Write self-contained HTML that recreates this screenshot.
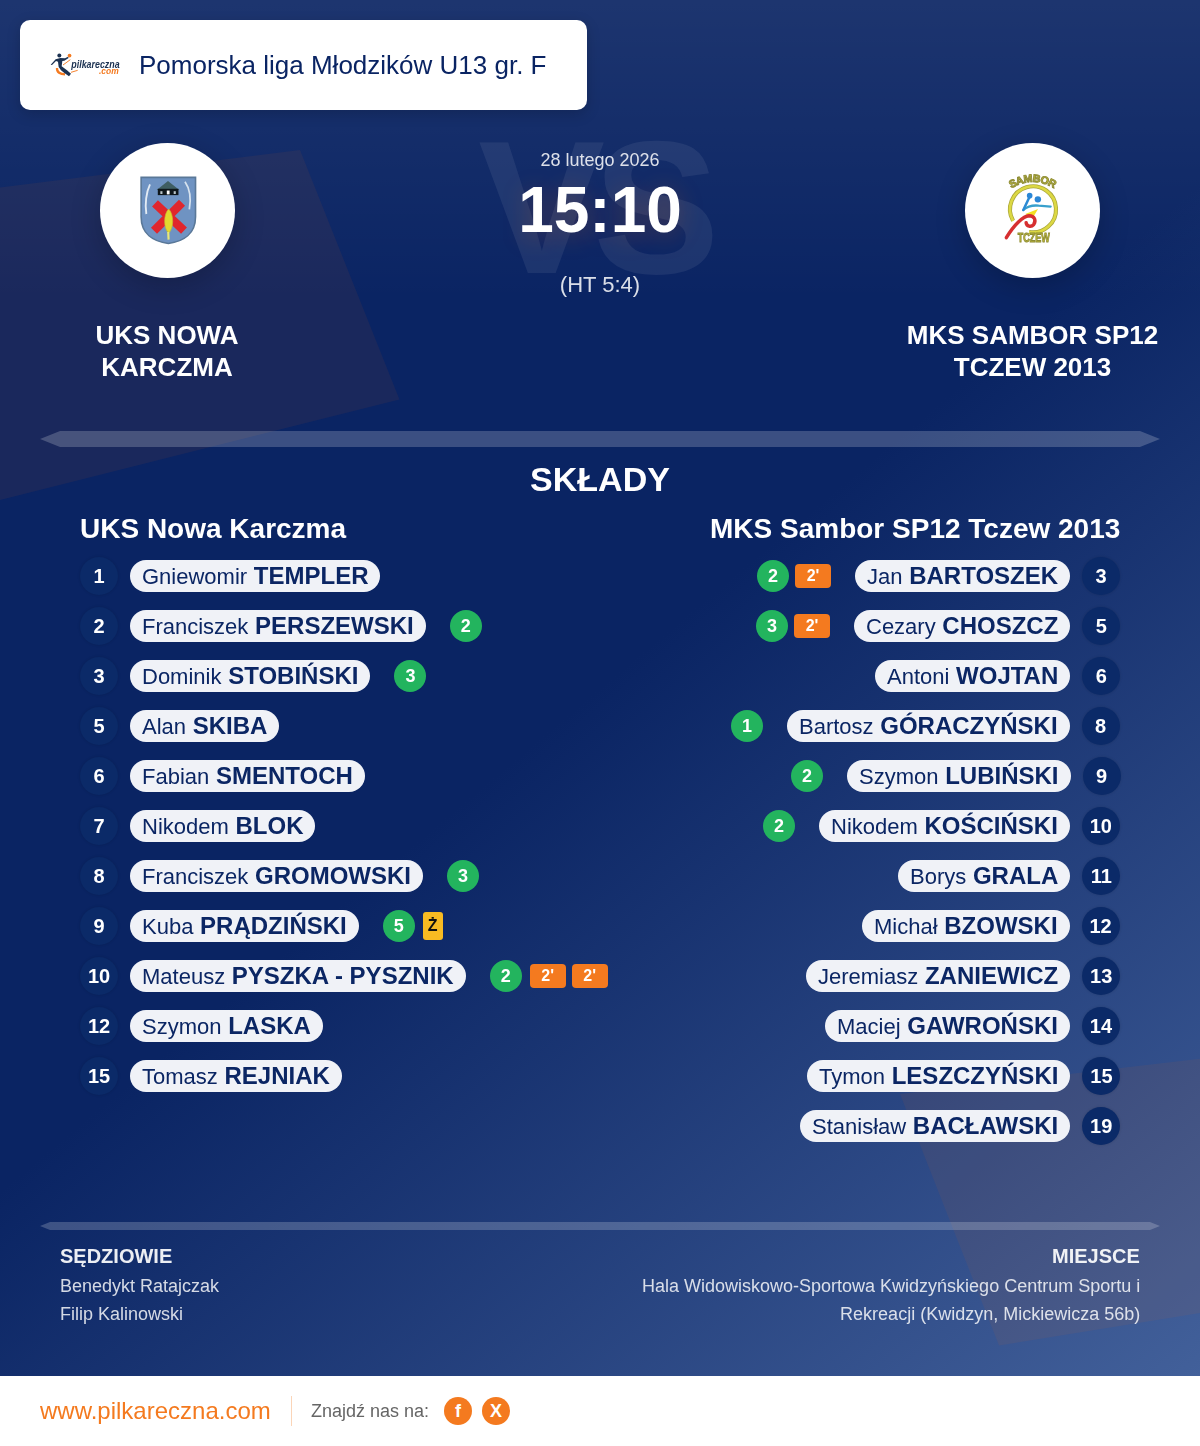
<!DOCTYPE html>
<html><head><meta charset="utf-8">
<style>
*{margin:0;padding:0;box-sizing:border-box}
html,body{width:1200px;height:1446px;overflow:hidden;background:#fff}
body{font-family:"Liberation Sans",sans-serif;position:relative}
.t,.row,#card{will-change:transform}
#main{position:absolute;left:0;top:0;width:1200px;height:1376px;overflow:hidden;
 background:linear-gradient(140deg,#0a2463 0%,#0a2463 50%,#42609a 100%)}
#topfade{position:absolute;left:0;top:0;width:1200px;height:300px;
 background:linear-gradient(180deg,rgba(255,255,255,0.08) 0%,rgba(255,255,255,0) 100%)}
.abs{position:absolute}
.t{position:absolute;white-space:nowrap}
#card{left:20px;top:20px;width:567px;height:90px;background:#fff;border-radius:10px;box-shadow:0 4px 14px rgba(0,0,0,0.18)}
#title{left:139px;top:52px;font-size:26px;line-height:26px;color:#0a2463}
.logo{position:absolute;width:135px;height:135px;border-radius:50%;background:#fff;top:142.5px;box-shadow:0 8px 30px rgba(0,0,0,0.22)}
.tname{position:absolute;width:300px;text-align:center;font-weight:bold;font-size:26px;line-height:32px;color:#fff;top:319px}
#vs{left:-7px;width:1200px;text-align:center;top:111.5px;font-size:190px;line-height:190px;font-weight:bold;color:rgba(255,255,255,0.07);letter-spacing:-12px}
#date{left:0;width:1200px;text-align:center;top:151px;font-size:18px;line-height:18px;color:rgba(255,255,255,0.85)}
#score{left:0;width:1200px;text-align:center;top:178px;font-size:64px;line-height:64px;font-weight:bold;color:#fff;text-shadow:0 4px 24px rgba(255,107,0,0.25)}
#ht{left:0;width:1200px;text-align:center;top:274px;font-size:22px;line-height:22px;color:rgba(255,255,255,0.85)}
.divider{position:absolute;left:40px;width:1120px;background:rgba(255,255,255,0.2)}
#d1{top:431px;height:16px;clip-path:polygon(20px 0,1100px 0,1120px 50%,1100px 100%,20px 100%,0 50%)}
#d2{top:1222px;height:8px;clip-path:polygon(10px 0,1110px 0,1120px 50%,1110px 100%,10px 100%,0 50%)}
#sklady{left:0;width:1200px;text-align:center;top:462px;font-size:34px;line-height:34px;font-weight:bold;color:#fff}
.th{font-size:28px;line-height:28px;font-weight:bold;color:#fff;top:515px}
.row{position:absolute;height:38px;display:flex;align-items:center}
.rowL{left:80px}
.rowR{right:80px;justify-content:flex-end}
.num{width:38px;height:38px;border-radius:50%;background:#0b2a68;box-shadow:0 0 3px rgba(0,0,0,0.15);color:#fff;font-weight:bold;font-size:20px;line-height:38px;text-align:center;flex:none}
.pill{height:32px;border-radius:16px;background:#f0f2f7;color:#0b2664;padding:0 12px;font-size:24px;line-height:31px;white-space:nowrap;flex:none}
.pill .fn{font-size:22px}
.pill .ln{font-weight:bold}
.rowL .pill{margin-left:12px}
.rowR .pill{margin-right:12px}
.ev{display:flex;align-items:center;flex:none}
.rowL .ev{margin-left:24px}
.rowR .ev{margin-right:24px}
.g{width:32px;height:32px;border-radius:50%;background:#23b45e;color:#fff;font-weight:bold;font-size:18px;line-height:32px;text-align:center}
.o{width:36px;height:24px;border-radius:4px;background:#f47a1f;color:#fff;font-weight:bold;font-size:16px;line-height:24px;text-align:center}
.y{width:20px;height:28px;border-radius:3px;background:#f8bb22;color:#111;font-weight:bold;font-size:16px;line-height:28px;text-align:center}
.rowL .g + .o,.rowL .g + .y{margin-left:8px}
.rowR .g + .o{margin-left:6px}
.o + .o{margin-left:6px}
.lbl{font-size:20px;line-height:20px;font-weight:bold;color:rgba(255,255,255,0.92);top:1246px}
.info{font-size:18px;line-height:28px;color:rgba(255,255,255,0.82)}
#footer{position:absolute;left:0;top:1376px;width:1200px;height:70px;background:#fff}
#www{left:40px;top:1399px;font-size:24px;line-height:24px;color:#f47a1f}
#sep{left:291px;top:1396px;width:1px;height:30px;background:#fbd5b8}
#find{left:311px;top:1402px;font-size:18px;line-height:18px;color:#666}
.soc{position:absolute;top:1397px;width:28px;height:28px;border-radius:50%;background:#f47a1f;color:#fff;font-weight:bold;font-size:18px;line-height:29px;text-align:center}
</style></head>
<body>
<div id="main">
 <div id="topfade"></div>
 <svg class="abs" style="left:0;top:0" width="1200" height="1376">
  <polygon points="0,187.5 300,150 399.5,399.5 0,500" fill="rgba(255,107,0,0.065)"/>
  <polygon points="900,1094 1200,1058.7 1200,1313 999,1345.6" fill="rgba(255,107,0,0.065)"/>
 </svg>
 <div class="t" id="vs">VS</div>

 <div class="abs" id="card"></div>
 <svg class="abs" style="left:45px;top:45px" width="80" height="40" viewBox="0 0 1200 600">
  <path d="M180,345 C175,410 230,440 300,440" stroke="#f47a20" stroke-width="34" fill="none"/>
  <path d="M270,300 L380,220 M390,410 L490,380" stroke="#f47a20" stroke-width="14" fill="none"/>
  <circle cx="215" cy="158" r="30" fill="#1b3151"/>
  <path d="M85,295 L160,215 L230,195 L300,200 L345,175 L355,195 L290,235 L260,240 L250,320 L330,380 L390,430 L360,470 L290,420 L240,380 L205,330 L195,250 L165,240 L105,300 Z" fill="#1b3151"/>
  <circle cx="368" cy="158" r="28" fill="#f47a20"/>
  <text x="395" y="348" font-family="Liberation Sans" font-weight="bold" font-style="italic" font-size="165" fill="#1b3151" textLength="725" lengthAdjust="spacingAndGlyphs">pilkareczna</text>
  <text x="810" y="432" font-family="Liberation Sans" font-style="italic" font-weight="bold" font-size="140" fill="#f47a20" textLength="295" lengthAdjust="spacingAndGlyphs">.com</text>
</svg>
 <div class="t" id="title">Pomorska liga Młodzików U13 gr. F</div>

 <div class="logo" style="left:99.5px"></div>
 <div class="logo" style="left:965px"></div>
 <svg class="abs" style="left:127px;top:170px" width="80" height="80" viewBox="0 0 1200 1200">
  <path d="M212,110 H1028 V700 C1028,955 850,1072 620,1102 C390,1072 212,955 212,700 Z" fill="#6f93c2" stroke="#5a7898" stroke-width="24"/>
  <path d="M345,215 C290,330 265,510 290,660" stroke="#e2ebf4" stroke-width="28" fill="none"/>
  <path d="M870,175 C950,290 960,450 935,590" stroke="#d6e2ee" stroke-width="26" fill="none"/>
  <polygon points="445,300 615,165 785,300" fill="#3f5e62"/>
  <rect x="462" y="282" width="310" height="95" fill="#0f171b"/>
  <rect x="500" y="318" width="32" height="42" fill="#b8c4c8"/>
  <rect x="597" y="308" width="42" height="58" fill="#fff"/>
  <rect x="700" y="318" width="32" height="42" fill="#b8c4c8"/>
  <path d="M420,500 L855,910 M825,490 L405,910" stroke="#e0262c" stroke-width="128"/>
  <path d="M625,585 C705,660 705,880 625,945 C545,880 545,660 625,585 Z" fill="#e2d92e" stroke="#c8b830" stroke-width="10"/>
  <path d="M618,930 L624,1045" stroke="#e8e878" stroke-width="32"/>
</svg>
 <svg class="abs" style="left:992px;top:170px" width="80" height="80" viewBox="0 0 1200 1200">
  
  <path d="M316,762 A345,345 0 1 1 555,930" stroke="#a9a53a" stroke-width="62" fill="none"/><path d="M316,762 A345,345 0 1 1 555,930" stroke="#dcd843" stroke-width="40" fill="none"/>
  <g font-family="Liberation Sans" font-weight="bold" font-size="160" fill="#c2bd3c" stroke="#8c8a34" stroke-width="14"><text x="0" y="0" transform="translate(334.6,250.2) rotate(-27.0)" text-anchor="middle">S</text><text x="0" y="0" transform="translate(431.4,209.5) rotate(-18.3)" text-anchor="middle">A</text><text x="0" y="0" transform="translate(546.6,183.7) rotate(-6.7)" text-anchor="middle">M</text><text x="0" y="0" transform="translate(664.7,182.8) rotate(5.8)" text-anchor="middle">B</text><text x="0" y="0" transform="translate(776.3,205.6) rotate(17.1)" text-anchor="middle">O</text><text x="0" y="0" transform="translate(881.8,248.4) rotate(26.7)" text-anchor="middle">R</text></g>
  <text x="625" y="1075" text-anchor="middle" font-family="Liberation Sans" font-weight="bold" font-size="200" fill="#c2bd3c" stroke="#8c8a34" stroke-width="14" textLength="480" lengthAdjust="spacingAndGlyphs">TCZEW</text>
  <path d="M470,600 Q560,520 700,535 L880,548" stroke="#38a0cc" stroke-width="34" fill="none" stroke-linecap="round"/>
  <path d="M470,600 L555,420" stroke="#2b8ad4" stroke-width="38" fill="none" stroke-linecap="round"/>
  <circle cx="565" cy="385" r="42" fill="#2a86d6"/>
  <circle cx="688" cy="440" r="48" fill="#2a86d6"/>
  <polygon points="500,660 690,585 610,720" fill="#f3df22"/>
  <path d="M215,1015 C330,820 470,690 555,685 C640,685 665,760 625,818 C585,865 520,845 512,790" stroke="#d62f30" stroke-width="52" fill="none" stroke-linecap="round"/>
</svg>

 <div class="tname" style="left:17px">UKS NOWA<br>KARCZMA</div>
 <div class="tname" style="left:882.5px">MKS SAMBOR SP12<br>TCZEW 2013</div>

 <div class="t" id="date">28 lutego 2026</div>
 <div class="t" id="score">15:10</div>
 <div class="t" id="ht">(HT 5:4)</div>

 <div class="divider" id="d1"></div>
 <div class="t" id="sklady">SKŁADY</div>
 <div class="t th" style="left:80px">UKS Nowa Karczma</div>
 <div class="t th" style="right:80px">MKS Sambor SP12 Tczew 2013</div>

 <!-- LEFT ROWS -->
 <div class="row rowL" style="top:557px"><div class="num">1</div><div class="pill"><span class="fn">Gniewomir</span> <span class="ln">TEMPLER</span></div></div>
 <div class="row rowL" style="top:607px"><div class="num">2</div><div class="pill"><span class="fn">Franciszek</span> <span class="ln">PERSZEWSKI</span></div><div class="ev"><div class="g">2</div></div></div>
 <div class="row rowL" style="top:657px"><div class="num">3</div><div class="pill"><span class="fn">Dominik</span> <span class="ln">STOBIŃSKI</span></div><div class="ev"><div class="g">3</div></div></div>
 <div class="row rowL" style="top:707px"><div class="num">5</div><div class="pill"><span class="fn">Alan</span> <span class="ln">SKIBA</span></div></div>
 <div class="row rowL" style="top:757px"><div class="num">6</div><div class="pill"><span class="fn">Fabian</span> <span class="ln">SMENTOCH</span></div></div>
 <div class="row rowL" style="top:807px"><div class="num">7</div><div class="pill"><span class="fn">Nikodem</span> <span class="ln">BLOK</span></div></div>
 <div class="row rowL" style="top:857px"><div class="num">8</div><div class="pill"><span class="fn">Franciszek</span> <span class="ln">GROMOWSKI</span></div><div class="ev"><div class="g">3</div></div></div>
 <div class="row rowL" style="top:907px"><div class="num">9</div><div class="pill"><span class="fn">Kuba</span> <span class="ln">PRĄDZIŃSKI</span></div><div class="ev"><div class="g">5</div><div class="y">Ż</div></div></div>
 <div class="row rowL" style="top:957px"><div class="num">10</div><div class="pill"><span class="fn">Mateusz</span> <span class="ln">PYSZKA - PYSZNIK</span></div><div class="ev"><div class="g">2</div><div class="o">2'</div><div class="o">2'</div></div></div>
 <div class="row rowL" style="top:1007px"><div class="num">12</div><div class="pill"><span class="fn">Szymon</span> <span class="ln">LASKA</span></div></div>
 <div class="row rowL" style="top:1057px"><div class="num">15</div><div class="pill"><span class="fn">Tomasz</span> <span class="ln">REJNIAK</span></div></div>

 <!-- RIGHT ROWS -->
 <div class="row rowR" style="top:557px"><div class="ev"><div class="g">2</div><div class="o">2'</div></div><div class="pill"><span class="fn">Jan</span> <span class="ln">BARTOSZEK</span></div><div class="num">3</div></div>
 <div class="row rowR" style="top:607px"><div class="ev"><div class="g">3</div><div class="o">2'</div></div><div class="pill"><span class="fn">Cezary</span> <span class="ln">CHOSZCZ</span></div><div class="num">5</div></div>
 <div class="row rowR" style="top:657px"><div class="pill"><span class="fn">Antoni</span> <span class="ln">WOJTAN</span></div><div class="num">6</div></div>
 <div class="row rowR" style="top:707px"><div class="ev"><div class="g">1</div></div><div class="pill"><span class="fn">Bartosz</span> <span class="ln">GÓRACZYŃSKI</span></div><div class="num">8</div></div>
 <div class="row rowR" style="top:757px"><div class="ev"><div class="g">2</div></div><div class="pill"><span class="fn">Szymon</span> <span class="ln">LUBIŃSKI</span></div><div class="num">9</div></div>
 <div class="row rowR" style="top:807px"><div class="ev"><div class="g">2</div></div><div class="pill"><span class="fn">Nikodem</span> <span class="ln">KOŚCIŃSKI</span></div><div class="num">10</div></div>
 <div class="row rowR" style="top:857px"><div class="pill"><span class="fn">Borys</span> <span class="ln">GRALA</span></div><div class="num">11</div></div>
 <div class="row rowR" style="top:907px"><div class="pill"><span class="fn">Michał</span> <span class="ln">BZOWSKI</span></div><div class="num">12</div></div>
 <div class="row rowR" style="top:957px"><div class="pill"><span class="fn">Jeremiasz</span> <span class="ln">ZANIEWICZ</span></div><div class="num">13</div></div>
 <div class="row rowR" style="top:1007px"><div class="pill"><span class="fn">Maciej</span> <span class="ln">GAWROŃSKI</span></div><div class="num">14</div></div>
 <div class="row rowR" style="top:1057px"><div class="pill"><span class="fn">Tymon</span> <span class="ln">LESZCZYŃSKI</span></div><div class="num">15</div></div>
 <div class="row rowR" style="top:1107px"><div class="pill"><span class="fn">Stanisław</span> <span class="ln">BACŁAWSKI</span></div><div class="num">19</div></div>

 <div class="divider" id="d2"></div>
 <div class="t lbl" style="left:60px">SĘDZIOWIE</div>
 <div class="t info" style="left:60px;top:1272px">Benedykt Ratajczak<br>Filip Kalinowski</div>
 <div class="t lbl" style="right:60px">MIEJSCE</div>
 <div class="t info" style="right:60px;top:1272px;text-align:right">Hala Widowiskowo-Sportowa Kwidzyńskiego Centrum Sportu i<br>Rekreacji (Kwidzyn, Mickiewicza 56b)</div>
</div>

<div id="footer"></div>
<div class="t" id="www">www.pilkareczna.com</div>
<div class="abs" id="sep"></div>
<div class="t" id="find">Znajdź nas na:</div>
<div class="soc" style="left:444px">f</div>
<div class="soc" style="left:482px">X</div>
</body></html>
